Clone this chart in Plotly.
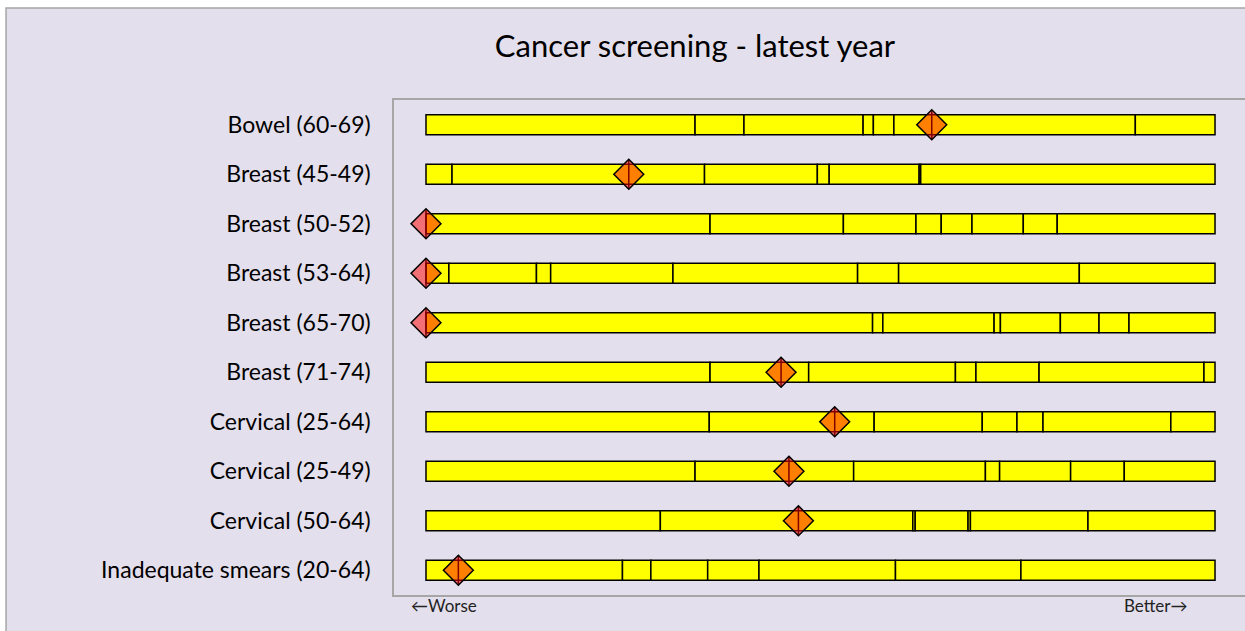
import plotly.graph_objects as go

categories = [
    "Bowel (60-69)", "Breast (45-49)", "Breast (50-52)", "Breast (53-64)",
    "Breast (65-70)", "Breast (71-74)", "Cervical (25-64)", "Cervical (25-49)",
    "Cervical (50-64)", "Inadequate smears (20-64)",
]

# segment boundaries along the 0-100 (worse -> better) scale, per row
boundaries = [
    [0, 34.1, 40.3, 55.4, 56.7, 59.3, 89.9, 100],
    [0, 3.3, 35.3, 49.6, 51.1, 62.5, 62.7, 100],
    [0, 36.0, 52.9, 62.1, 65.3, 69.2, 75.7, 80.0, 100],
    [0, 2.9, 14.0, 15.8, 31.3, 54.7, 59.9, 82.8, 100],
    [0, 56.6, 57.9, 72.0, 72.8, 80.4, 85.3, 89.1, 100],
    [0, 36.0, 48.5, 67.1, 69.7, 77.7, 98.6, 100],
    [0, 35.9, 56.8, 70.5, 74.9, 78.2, 94.4, 100],
    [0, 34.1, 54.2, 70.9, 72.7, 81.7, 88.5, 100],
    [0, 29.7, 61.7, 62.0, 68.7, 69.0, 83.9, 100],
    [0, 24.9, 28.5, 35.7, 42.2, 59.5, 75.4, 100],
]

# local value marker position on the same scale
local_values = [64.1, 25.7, 0, 0, 0, 45.0, 51.8, 46.0, 47.2, 4.1]

axis_labels = ["\u2190Worse", "Better\u2192"]
axis_label_pos = [2.3, 92.5]

seg_y, seg_base, seg_w = [], [], []
for cat, b in zip(categories, boundaries):
    for a, c in zip(b[:-1], b[1:]):
        seg_y.append(cat)
        seg_base.append(a)
        seg_w.append(c - a)

fig = go.Figure()
fig.add_trace(go.Bar(
    y=seg_y, x=seg_w, base=seg_base, orientation="h", width=0.405,
    marker=dict(color="#FFFF00", line=dict(color="black", width=1.5)),
    showlegend=False, hoverinfo="skip",
))
fig.add_trace(go.Scatter(
    y=categories, x=local_values, mode="markers",
    marker=dict(symbol="line-ns", size=21, line=dict(color="black", width=1.5)),
    showlegend=False, hoverinfo="skip",
))
fig.add_trace(go.Scatter(
    y=categories, x=local_values, mode="markers",
    marker=dict(symbol="diamond", size=23, color="rgba(255,0,0,0.5)",
                line=dict(color="black", width=1.5)),
    showlegend=False,
))

for txt, pos in zip(axis_labels, axis_label_pos):
    fig.add_annotation(x=pos, y=-0.0222, xref="x", yref="paper", text=txt,
                       showarrow=False, yanchor="middle",
                       font=dict(size=17, color="#222222"))

# outer frame
fig.add_shape(type="rect", xref="paper", yref="paper",
              x0=-0.4559, x1=1.2, y0=-0.3, y1=1.1859, layer="below",
              fillcolor="#E4DFEC", line=dict(color="#A6A6A6", width=1.5))

fig.update_layout(
    width=1245, height=631,
    margin=dict(l=394, r=0, t=100, b=36),
    paper_bgcolor="white", plot_bgcolor="#CCC0DA",
    font=dict(family="Lato, Carlito, sans-serif", color="black"),
    title=dict(text="Cancer screening - latest year",
               x=695 / 1245, xref="container", xanchor="center",
               y=1 - 46 / 631, yref="container", yanchor="middle",
               font=dict(size=31, color="black")),
    barmode="overlay",
    xaxis=dict(range=[-4.056, 103.8], showgrid=False, zeroline=False,
               showticklabels=False, showline=True, linecolor="#A6A6A6",
               linewidth=1.5, mirror=True, fixedrange=True),
    yaxis=dict(range=[9.5, -0.5], showgrid=False, zeroline=False,
               showline=True, linecolor="#A6A6A6", linewidth=1.5,
               tickfont=dict(size=23), ticklabelstandoff=17, ticks=""),
)

fig.write_html(
    "out.html",
    config={"displayModeBar": False},
    post_script="document.documentElement.style.overflow='hidden';"
                "document.body.style.margin='0';"
                "document.body.style.overflow='hidden';",
)
